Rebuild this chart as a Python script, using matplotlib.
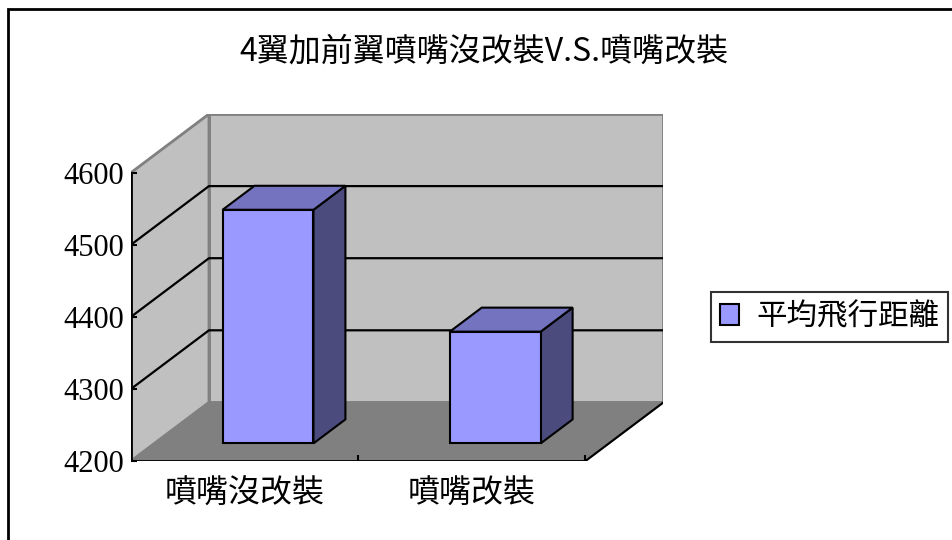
import matplotlib
matplotlib.use("Agg")
import matplotlib.pyplot as plt
from matplotlib.patches import Polygon, Rectangle

plt.rcParams['font.family'] = ['Noto Sans CJK TC', 'DejaVu Sans']

title = '4翼加前翼噴嘴沒改裝V.S.噴嘴改裝'
categories = ['噴嘴沒改裝', '噴嘴改裝']
distances = [4524, 4355]
series_name = '平均飛行距離'
y_ticks = [4200, 4300, 4400, 4500, 4600]

# oblique projection: a point at depth z (0 front .. 1 back) is shifted by
# z * (DEPTH_X, DEPTH_Y) in axis units
DEPTH_X = 0.343
DEPTH_Y = 81.25
BAR_W = 0.4
BAR_Z = (0.30, 0.71)

FRONT = '#9999FF'
TOP = '#7373BF'
SIDE = '#4B4B7E'
WALL = '#C0C0C0'
FLOOR = '#808080'
EDGE = '#808080'


def proj(x, v, z):
    return (x + z * DEPTH_X, v + z * DEPTH_Y)


fig = plt.figure(figsize=(9.53, 5.40), dpi=100)
ax = fig.add_axes([0.1375, 0.1463, 0.5586, 0.6426])

n = len(categories)
y0, y1 = y_ticks[0], y_ticks[-1]
ax.set_xlim(0, n + DEPTH_X)
ax.set_ylim(y0, y1 + DEPTH_Y)

# walls and floor
back = [proj(0, y0, 1), proj(n, y0, 1), proj(n, y1, 1), proj(0, y1, 1)]
left = [proj(0, y0, 0), proj(0, y0, 1), proj(0, y1, 1), proj(0, y1, 0)]
floor = [proj(0, y0, 0), proj(n, y0, 0), proj(n, y0, 1), proj(0, y0, 1)]
ax.add_patch(Polygon(back, closed=True, fc=WALL, ec=EDGE, lw=2, zorder=1))
ax.add_patch(Polygon(left, closed=True, fc=WALL, ec=EDGE, lw=2, zorder=1))
ax.add_patch(Polygon(floor, closed=True, fc=FLOOR, ec=EDGE, lw=1.5, zorder=1))

# gridlines across the left wall and back wall
for v in y_ticks[1:-1]:
    pts = [proj(0, v, 0), proj(0, v, 1), proj(n, v, 1)]
    ax.plot([p[0] for p in pts], [p[1] for p in pts], color='black', lw=1.6,
            zorder=1.5, solid_capstyle='butt')

# bars
z0, z1 = BAR_Z
for i, v in enumerate(distances):
    xa = i + (1 - BAR_W) / 2
    xb = xa + BAR_W
    side = [proj(xb, y0, z0), proj(xb, y0, z1), proj(xb, v, z1), proj(xb, v, z0)]
    top = [proj(xa, v, z0), proj(xb, v, z0), proj(xb, v, z1), proj(xa, v, z1)]
    front = [proj(xa, y0, z0), proj(xb, y0, z0), proj(xb, v, z0), proj(xa, v, z0)]
    ax.add_patch(Polygon(side, closed=True, fc=SIDE, ec='black', lw=1.5, zorder=2))
    ax.add_patch(Polygon(top, closed=True, fc=TOP, ec='black', lw=1.5, zorder=2))
    ax.add_patch(Polygon(front, closed=True, fc=FRONT, ec='black', lw=1.5, zorder=2,
                         label=series_name if i == 0 else None))

# front axis lines
ax.plot([0, 0], [y0, y1], color='black', lw=2, zorder=3)
ax.plot([0, n], [y0, y0], color='black', lw=2, zorder=3)
ax.plot(*zip(proj(n, y0, 0), proj(n, y0, 1)), color='black', lw=1.5, zorder=3)

for s in ax.spines.values():
    s.set_visible(False)
ax.patch.set_visible(False)

ax.set_yticks(y_ticks, labels=[str(t) for t in y_ticks],
              fontfamily='Liberation Serif', fontsize=22)
ax.tick_params(axis='y', direction='in', length=4.5, width=1.5, pad=5)
ax.set_xticks(range(1, n + 1), labels=[''] * n)
ax.tick_params(axis='x', which='major', direction='in', length=4.5, width=1.5)
ax.set_xticks([i + 0.5 for i in range(n)], labels=categories, minor=True, fontsize=23)
ax.tick_params(axis='x', which='minor', length=0, pad=12)

fig.text(0.508, 0.904, title, ha='center', va='center', fontsize=23)

leg = ax.legend(loc='center left', bbox_to_anchor=(711 / 953, 1 - 317 / 540),
                bbox_transform=fig.transFigure, fontsize=22, frameon=True,
                fancybox=False, handlelength=0.62, handleheight=0.68,
                handletextpad=0.55, borderpad=0.3, borderaxespad=0)
leg.get_frame().set_edgecolor('black')
leg.get_frame().set_linewidth(1.5)

# chart area border
fig.add_artist(Rectangle((8 / 953, -0.1), 1.0, 1 - 8.5 / 540 + 0.1,
                         transform=fig.transFigure, fill=False,
                         ec='black', lw=2))

fig.savefig('out.png', dpi=100)
